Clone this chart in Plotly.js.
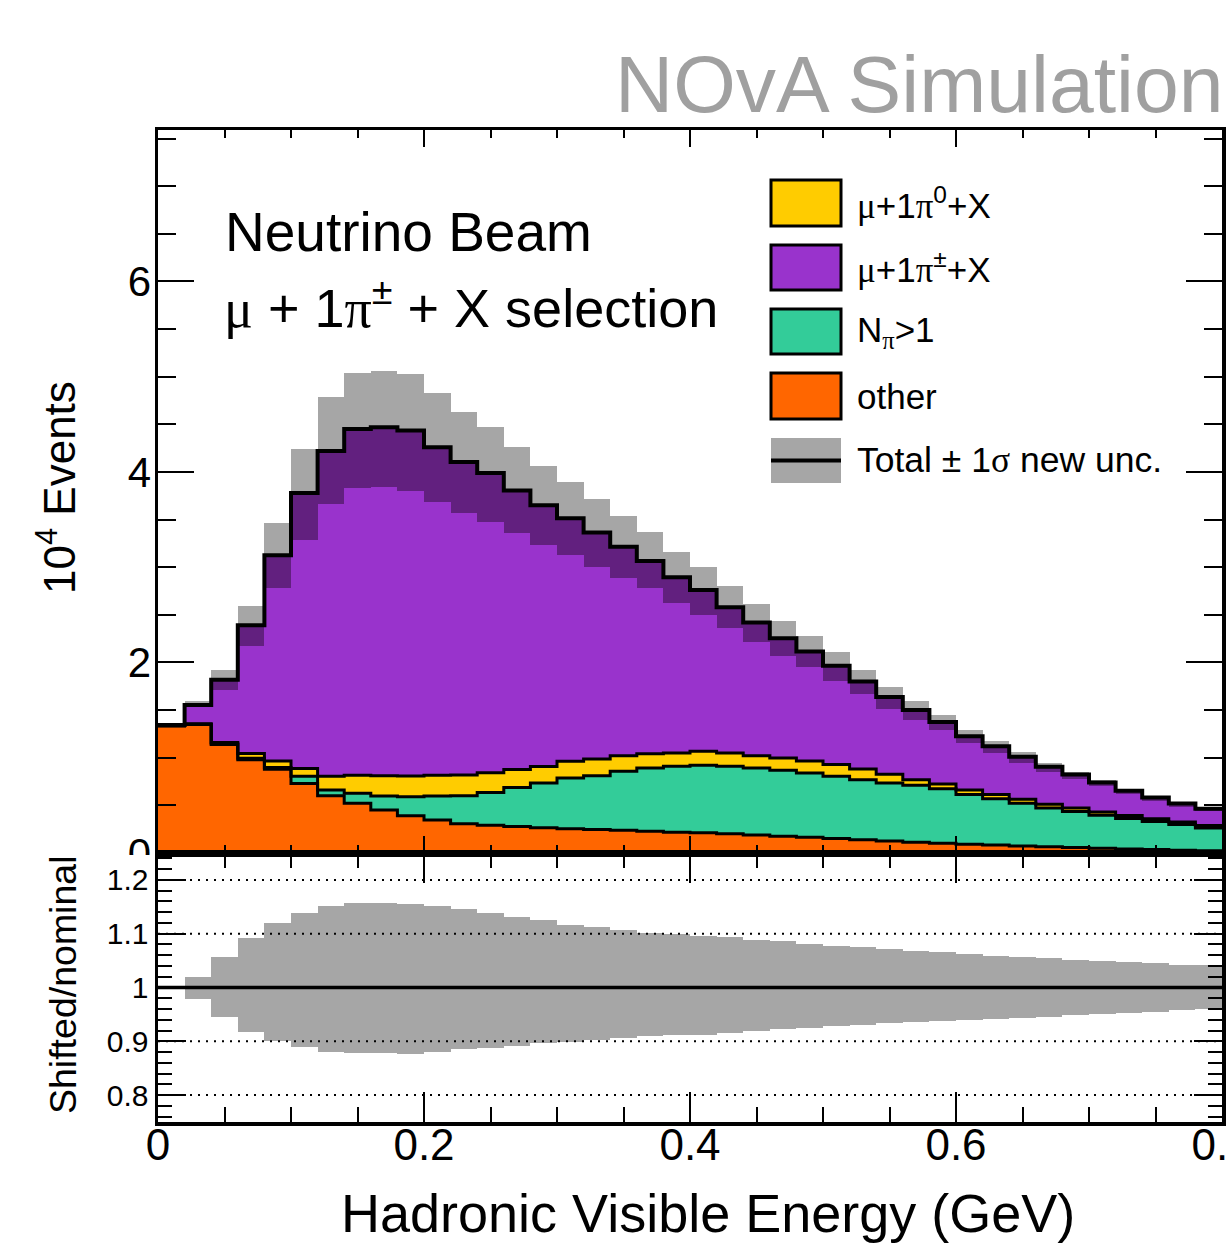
<!DOCTYPE html>
<html>
<head>
<meta charset="utf-8">
<script src="https://cdn.plot.ly/plotly-3.0.1.min.js"></script>
<style>
  html, body { margin: 0; padding: 0; background: #ffffff; }
  #chart { width: 1227px; height: 1248px; }
</style>
</head>
<body>
<div id="chart"></div>
<script>
// Hadronic visible energy binning (GeV)
const binEdges = [0.00, 0.02, 0.04, 0.06, 0.08, 0.10, 0.12, 0.14, 0.16, 0.18,
                  0.20, 0.22, 0.24, 0.26, 0.28, 0.30, 0.32, 0.34, 0.36, 0.38,
                  0.40, 0.42, 0.44, 0.46, 0.48, 0.50, 0.52, 0.54, 0.56, 0.58,
                  0.60, 0.62, 0.64, 0.66, 0.68, 0.70, 0.72, 0.74, 0.76, 0.78, 0.80];

// Simulated event counts per bin, in units of 10^4 events
const other = [1.335, 1.350, 1.140, 0.980, 0.880, 0.730, 0.600, 0.521, 0.451, 0.392,
               0.347, 0.308, 0.291, 0.277, 0.266, 0.254, 0.247, 0.240, 0.229, 0.219,
               0.212, 0.201, 0.190, 0.176, 0.166, 0.152, 0.140, 0.125, 0.113, 0.103,
               0.093, 0.083, 0.074, 0.065, 0.057, 0.050, 0.043, 0.036, 0.030, 0.024];

const nPiMulti = [0.000, 0.002, 0.006, 0.015, 0.018, 0.077, 0.061, 0.105, 0.147, 0.199,
                  0.251, 0.292, 0.344, 0.410, 0.469, 0.534, 0.565, 0.618, 0.664, 0.691,
                  0.708, 0.709, 0.703, 0.692, 0.675, 0.653, 0.630, 0.611, 0.597, 0.572,
                  0.522, 0.487, 0.448, 0.407, 0.378, 0.345, 0.319, 0.294, 0.268, 0.238];

const onePi0 = [0.000, 0.005, 0.014, 0.050, 0.067, 0.081, 0.144, 0.189, 0.213, 0.217,
                0.218, 0.218, 0.208, 0.190, 0.173, 0.174, 0.175, 0.164, 0.150, 0.140,
                0.147, 0.140, 0.129, 0.130, 0.124, 0.123, 0.113, 0.090, 0.060, 0.050,
                0.047, 0.045, 0.043, 0.040, 0.037, 0.035, 0.032, 0.030, 0.028, 0.026];

const onePiCharged = [0.010, 0.198, 0.660, 1.345, 2.160, 2.892, 3.415, 3.635, 3.659, 3.627,
                      3.444, 3.287, 3.147, 2.928, 2.742, 2.553, 2.378, 2.193, 2.022, 1.845,
                      1.693, 1.530, 1.398, 1.257, 1.150, 1.037, 0.917, 0.811, 0.730, 0.651,
                      0.563, 0.505, 0.445, 0.393, 0.353, 0.311, 0.259, 0.222, 0.194, 0.177];

// Total +/- 1 sigma envelope (10^4 events)
const bandUp = [1.345, 1.597, 1.918, 2.589, 3.463, 4.238, 4.783, 5.042, 5.063, 5.028,
                4.825, 4.633, 4.476, 4.266, 4.067, 3.900, 3.716, 3.538, 3.367, 3.160,
                3.000, 2.804, 2.615, 2.437, 2.280, 2.109, 1.923, 1.745, 1.600, 1.454,
                1.290, 1.178, 1.056, 0.947, 0.855, 0.765, 0.675, 0.600, 0.535, 0.487];

const bandDown = [1.345, 1.540, 1.709, 2.173, 2.780, 3.290, 3.660, 3.830, 3.840, 3.800,
                  3.680, 3.570, 3.480, 3.360, 3.230, 3.130, 3.005, 2.890, 2.780, 2.625,
                  2.500, 2.357, 2.210, 2.063, 1.948, 1.808, 1.669, 1.515, 1.400, 1.289,
                  1.150, 1.055, 0.947, 0.853, 0.779, 0.702, 0.615, 0.548, 0.486, 0.445];

// Shifted / nominal ratio envelope
const ratioUp = [1.000, 1.020, 1.056, 1.092, 1.119, 1.139, 1.152, 1.157, 1.158, 1.156,
                 1.151, 1.145, 1.139, 1.131, 1.125, 1.117, 1.112, 1.107, 1.102, 1.099,
                 1.096, 1.093, 1.088, 1.086, 1.081, 1.077, 1.075, 1.071, 1.068, 1.066,
                 1.062, 1.059, 1.056, 1.054, 1.051, 1.049, 1.047, 1.046, 1.042, 1.041];

const ratioDown = [1.000, 0.978, 0.946, 0.918, 0.900, 0.889, 0.880, 0.878, 0.878, 0.876,
                   0.880, 0.885, 0.888, 0.892, 0.896, 0.899, 0.903, 0.906, 0.909, 0.911,
                   0.912, 0.915, 0.919, 0.922, 0.925, 0.928, 0.930, 0.934, 0.935, 0.937,
                   0.940, 0.942, 0.944, 0.946, 0.948, 0.951, 0.952, 0.955, 0.959, 0.960];

const ratioGridValues = [0.8, 0.9, 1.1, 1.2];

const colors = {
  other: '#ff6600',
  nPiMulti: '#33cc99',
  onePi0: '#ffcc00',
  onePiCharged: '#9933cc',
  bandOverlap: '#62207f',
  band: '#a6a6a6'
};

const FONT = 'Liberation Sans, Arial, Helvetica, sans-serif';
const SERIF = 'Liberation Serif';

// page geometry
const W = 1227, H = 1248;
const M = { l: 158, r: 5, t: 130, b: 126 };
const plotW = W - M.l - M.r;
const plotH = H - M.t - M.b;
const px = x => (x - M.l) / plotW;
const py = y => (H - M.b - y) / plotH;
const splitY = py(853);

const centers = binEdges.slice(0, -1).map((e, i) => (e + binEdges[i + 1]) / 2);
const widths = binEdges.slice(0, -1).map((e, i) => binEdges[i + 1] - e);
const stepY = arr => arr.concat([arr[arr.length - 1]]);

const traces = [];

// stacked components
const stack = [
  { vals: other, color: colors.other },
  { vals: nPiMulti, color: colors.nPiMulti },
  { vals: onePi0, color: colors.onePi0 },
  { vals: onePiCharged, color: colors.onePiCharged }
];
let base = other.map(() => 0);
const tops = [];
stack.forEach(s => {
  const top = base.map((b, i) => b + s.vals[i]);
  traces.push({
    type: 'bar', x: centers, y: s.vals, base: base.slice(), width: widths,
    marker: { color: s.color, line: { width: 0 } },
    xaxis: 'x', yaxis: 'y', hoverinfo: 'skip'
  });
  tops.push(top);
  base = top;
});
const total = base;

// uncertainty envelope: inside the stack and above it
traces.push({
  type: 'bar', x: centers, y: total.map((t, i) => t - bandDown[i]), base: bandDown, width: widths,
  marker: { color: colors.bandOverlap, line: { width: 0 } },
  xaxis: 'x', yaxis: 'y', hoverinfo: 'skip'
});
traces.push({
  type: 'bar', x: centers, y: bandUp.map((u, i) => u - total[i]), base: total, width: widths,
  marker: { color: colors.band, line: { width: 0 } },
  xaxis: 'x', yaxis: 'y', hoverinfo: 'skip'
});

// outlines of each cumulative layer
tops.slice(0, 3).forEach(t => {
  traces.push({
    type: 'scatter', mode: 'lines', x: binEdges, y: stepY(t),
    line: { shape: 'hv', color: '#000000', width: 3 },
    xaxis: 'x', yaxis: 'y', hoverinfo: 'skip'
  });
});
traces.push({
  type: 'scatter', mode: 'lines', x: binEdges, y: stepY(total),
  line: { shape: 'hv', color: '#000000', width: 4 },
  xaxis: 'x', yaxis: 'y', hoverinfo: 'skip'
});

// ratio panel envelope
traces.push({
  type: 'bar', x: centers, y: ratioUp.map((u, i) => u - ratioDown[i]), base: ratioDown, width: widths,
  marker: { color: colors.band, line: { width: 0 } },
  xaxis: 'x2', yaxis: 'y2', hoverinfo: 'skip'
});

const axisCommon = {
  showline: true, linewidth: 3.5, linecolor: '#000000', mirror: 'ticks',
  ticks: 'inside', tickcolor: '#000000', tickwidth: 2,
  showgrid: false, zeroline: false, fixedrange: true
};

const shapes = [];

// nominal line
shapes.push({
  type: 'line', xref: 'x2', yref: 'y2', x0: binEdges[0], x1: binEdges[binEdges.length - 1], y0: 1, y1: 1,
  line: { color: '#000000', width: 3.5 }, layer: 'above'
});
// dotted reference lines in the ratio panel
ratioGridValues.forEach(v => {
  shapes.push({
    type: 'line', xref: 'x2', yref: 'y2', x0: binEdges[0], x1: binEdges[binEdges.length - 1], y0: v, y1: v,
    line: { color: '#000000', width: 2, dash: '2px,6px' }, layer: 'above'
  });
});
// hide lower half of the main-panel zero label, as the ratio pad covers it
shapes.push({
  type: 'rect', xref: 'paper', yref: 'paper', x0: px(92), x1: px(154), y0: py(869), y1: py(855),
  fillcolor: '#ffffff', line: { width: 0 }, layer: 'above'
});

// legend
const legendBoxL = px(771), legendBoxR = px(841);
const legendRows = [
  { top: 180, bot: 226, color: colors.onePi0, label: '<span style="font-family:' + SERIF + '">μ</span>+1<span style="font-family:' + SERIF + '">π</span><sup>0</sup>+X' },
  { top: 245, bot: 290, color: colors.onePiCharged, label: '<span style="font-family:' + SERIF + '">μ</span>+1<span style="font-family:' + SERIF + '">π</span><sup>±</sup>+X' },
  { top: 309, bot: 354, color: colors.nPiMulti, label: 'N<sub><span style="font-family:' + SERIF + '">π</span></sub>>1' },
  { top: 373, bot: 419, color: colors.other, label: 'other' }
];
const annotations = [];
legendRows.forEach(r => {
  shapes.push({
    type: 'rect', xref: 'paper', yref: 'paper', x0: legendBoxL, x1: legendBoxR, y0: py(r.bot), y1: py(r.top),
    fillcolor: r.color, line: { color: '#000000', width: 3 }, layer: 'above'
  });
  annotations.push({
    xref: 'paper', yref: 'paper', x: px(855), y: py((r.top + r.bot) / 2), xanchor: 'left', yanchor: 'middle',
    text: r.label, showarrow: false, font: { family: FONT, size: 35, color: '#000000' }
  });
});
shapes.push({
  type: 'rect', xref: 'paper', yref: 'paper', x0: legendBoxL, x1: legendBoxR, y0: py(483), y1: py(438),
  fillcolor: colors.band, line: { width: 0 }, layer: 'above'
});
shapes.push({
  type: 'line', xref: 'paper', yref: 'paper', x0: legendBoxL, x1: legendBoxR, y0: py(460.5), y1: py(460.5),
  line: { color: '#000000', width: 4 }, layer: 'above'
});
annotations.push({
  xref: 'paper', yref: 'paper', x: px(855), y: py(460.5), xanchor: 'left', yanchor: 'middle',
  text: 'Total ± 1<span style="font-family:' + SERIF + '">σ</span> new unc.', showarrow: false,
  font: { family: FONT, size: 35.5, color: '#000000' }
});

// headline and selection labels
annotations.push({
  xref: 'paper', yref: 'paper', x: px(1225), y: py(84), xanchor: 'right', yanchor: 'middle',
  text: 'NOvA Simulation', showarrow: false, font: { family: FONT, size: 80.5, color: '#a0a0a0' }
});
annotations.push({
  xref: 'paper', yref: 'paper', x: px(223), y: py(232), xanchor: 'left', yanchor: 'middle',
  text: 'Neutrino Beam', showarrow: false, font: { family: FONT, size: 55, color: '#000000' }
});
annotations.push({
  xref: 'paper', yref: 'paper', x: px(222), y: py(304), xanchor: 'left', yanchor: 'middle',
  text: '<span style="font-family:' + SERIF + '">μ</span> + 1<span style="font-family:' + SERIF + '">π</span><sup>±</sup> + X selection',
  showarrow: false, font: { family: FONT, size: 54, color: '#000000' }
});

// axis titles
annotations.push({
  xref: 'paper', yref: 'paper', x: px(57), y: py(488), xanchor: 'center', yanchor: 'middle', textangle: -90,
  text: '10<sup>4</sup> Events', showarrow: false, font: { family: FONT, size: 44, color: '#000000' }
});
annotations.push({
  xref: 'paper', yref: 'paper', x: px(63), y: py(985), xanchor: 'center', yanchor: 'middle', textangle: -90,
  text: 'Shifted/nominal', showarrow: false, font: { family: FONT, size: 37.5, color: '#000000' }
});
annotations.push({
  xref: 'paper', yref: 'paper', x: px(708), y: py(1213), xanchor: 'center', yanchor: 'middle',
  text: 'Hadronic Visible Energy (GeV)', showarrow: false, font: { family: FONT, size: 54, color: '#000000' }
});

const layout = {
  width: W, height: H,
  margin: { l: M.l, r: M.r, t: M.t, b: M.b, pad: 0 },
  paper_bgcolor: '#ffffff', plot_bgcolor: '#ffffff',
  barmode: 'overlay', bargap: 0,
  showlegend: false, hovermode: false,
  font: { family: FONT, color: '#000000' },
  xaxis: Object.assign({}, axisCommon, {
    anchor: 'y', domain: [0, 1], range: [0, 0.8],
    showticklabels: false, tick0: 0, dtick: 0.2, ticklen: 17,
    minor: { dtick: 0.05, ticklen: 8, tickwidth: 2, tickcolor: '#000000', ticks: 'inside' }
  }),
  yaxis: Object.assign({}, axisCommon, {
    anchor: 'x', domain: [splitY, 1], range: [0, 7.59],
    tick0: 0, dtick: 2, ticklen: 36, ticklabelstandoff: -5,
    tickfont: { family: FONT, size: 42, color: '#000000' },
    minor: { dtick: 0.5, ticklen: 18, tickwidth: 2, tickcolor: '#000000', ticks: 'inside' }
  }),
  xaxis2: Object.assign({}, axisCommon, {
    anchor: 'y2', domain: [0, 1], range: [0, 0.8],
    tick0: 0, dtick: 0.2, ticklen: 30, ticklabeloverflow: 'allow', ticklabelstandoff: -18,
    tickfont: { family: FONT, size: 44, color: '#000000' },
    minor: { dtick: 0.05, ticklen: 15, tickwidth: 2, tickcolor: '#000000', ticks: 'inside' }
  }),
  yaxis2: Object.assign({}, axisCommon, {
    anchor: 'x2', domain: [0, splitY], range: [0.75, 1.25],
    tick0: 0, dtick: 0.1, ticklen: 28,
    tickfont: { family: FONT, size: 30, color: '#000000' },
    minor: { dtick: 0.02, ticklen: 14, tickwidth: 2, tickcolor: '#000000', ticks: 'inside' }
  }),
  shapes: shapes,
  annotations: annotations
};

Plotly.newPlot('chart', traces, layout, { staticPlot: true, displayModeBar: false });
</script>
</body>
</html>
